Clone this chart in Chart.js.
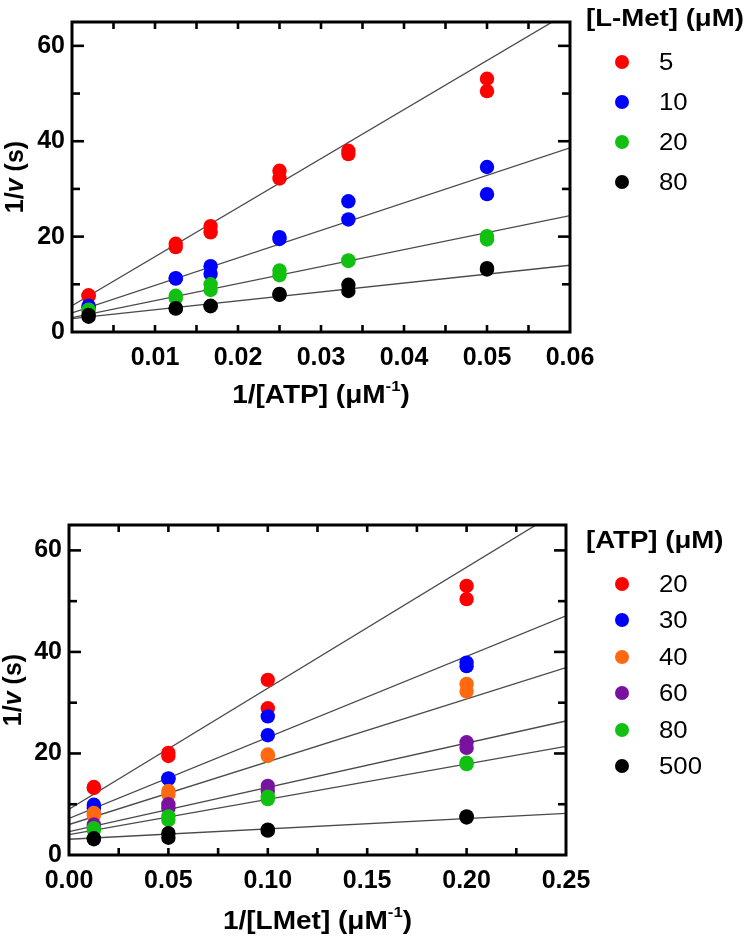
<!DOCTYPE html>
<html>
<head>
<meta charset="utf-8">
<script src="https://cdn.jsdelivr.net/npm/chart.js@4.4.1/dist/chart.umd.min.js"></script>
<style>
  html, body { margin: 0; padding: 0; background: #fff; }
  body { width: 750px; height: 938px; position: relative; overflow: hidden; font-family: "Liberation Sans", Arial, sans-serif; }
  .wrap { position: absolute; left: 0; width: 750px; }
  .legend { position: absolute; left: 0; top: 0; width: 750px; height: 100%; pointer-events: none; }
  .legend .title { position: absolute; left: 586px; font-weight: bold; font-size: 23px; white-space: nowrap; transform: scaleX(1.2); transform-origin: left center; line-height: 26px; margin-top: -13px; }
  .legend .dot { position: absolute; left: 615px; width: 14px; height: 14px; border-radius: 50%; margin-top: -7px; }
  .legend .lbl { position: absolute; left: 659px; font-size: 23px; line-height: 26px; margin-top: -13px; transform: scaleX(1.12); transform-origin: left center; }
</style>
</head>
<body>
<div class="wrap" style="top:0;height:440px">
  <canvas id="metChart" width="750" height="440"></canvas>
  <div class="legend" id="metLegend"></div>
</div>
<div class="wrap" style="top:440px;height:498px">
  <canvas id="atpChart" width="750" height="498"></canvas>
  <div class="legend" id="atpLegend"></div>
</div>
<script>
// ---- top panel: 1/v vs 1/[ATP] at fixed L-Met ----
const atpInv = [0.002, 0.0125, 0.0167, 0.025, 0.0333, 0.05];
const metLabels = ["5", "10", "20", "80"];
const metColors = ["#ff0000", "#0000ff", "#11c011", "#000000"];
const met5A = [7.7, 18.5, 22.2, 33.8, 38.0, 53.1];
const met5B = [7.5, 17.8, 20.9, 32.2, 37.3, 50.5];
const met10A = [5.5, 11.3, 13.8, 19.9, 27.4, 34.6];
const met10B = [5.2, 11.2, 12.2, 19.5, 23.6, 28.9];
const met20A = [4.7, 7.6, 10.0, 12.9, 15.0, 20.1];
const met20B = [4.4, 7.1, 8.8, 11.9, 14.9, 19.4];
const met80A = [3.6, 5.0, 5.5, 8.0, 9.9, 13.4];
const met80B = [3.2, 4.9, 5.4, 7.8, 8.6, 13.1];
// fitted lines: value at x = 0 and at x = 0.06
const metFitStart = [5.5, 4.0, 3.0, 2.8];
const metFitEnd = [67.2, 38.6, 24.4, 14.0];

// ---- bottom panel: 1/v vs 1/[LMet] at fixed ATP ----
const metInv = [0.0125, 0.05, 0.1, 0.2];
const atpLabels = ["20", "30", "40", "60", "80", "500"];
const atpColors = ["#ff0000", "#0000ff", "#ff6a10", "#7a12a0", "#11c011", "#000000"];
const atp20A = [13.4, 20.1, 34.5, 53.0];
const atp20B = [13.2, 19.5, 28.9, 50.4];
const atp30A = [9.9, 15.1, 27.3, 37.9];
const atp30B = [9.2, 15.0, 23.6, 37.2];
const atp40A = [8.3, 12.6, 19.8, 33.7];
const atp40B = [7.8, 11.9, 19.5, 32.2];
const atp60A = [6.0, 10.0, 13.6, 22.2];
const atp60B = [5.6, 9.2, 12.6, 21.1];
const atp80A = [5.3, 7.6, 11.5, 18.2];
const atp80B = [4.9, 6.9, 11.0, 17.9];
const atp500A = [3.3, 4.3, 5.0, 7.6];
const atp500B = [3.1, 3.4, 4.8, 7.4];
// fitted lines: value at x = 0 and at x = 0.25
const atpFitStart = [9.0, 7.2, 6.0, 4.6, 4.0, 3.1];
const atpFitEnd = [68.6, 47.1, 36.9, 26.4, 21.4, 8.2];

const FONT = "'Liberation Sans', Arial, sans-serif";

// frame, inward ticks and axis titles
const framePlugin = {
  id: "frame",
  afterDraw(chart, args, o) {
    const { ctx, chartArea: a } = chart;
    const x = chart.scales.x, y = chart.scales.y;
    ctx.save();
    ctx.strokeStyle = "#000";
    ctx.lineCap = "butt";
    ctx.lineWidth = 2.6;
    const seg = (x1, y1, x2, y2) => { ctx.beginPath(); ctx.moveTo(x1, y1); ctx.lineTo(x2, y2); ctx.stroke(); };

    const nx = Math.round((x.max - x.min) / o.xMinor);
    for (let i = 1; i < nx; i++) {
      const px = x.getPixelForValue(x.min + i * o.xMinor);
      seg(px, a.bottom, px, a.bottom - 7);
      seg(px, a.top, px, a.top + 7);
    }
    const ny = Math.floor((y.max - y.min) / o.yMinor + 1e-9);
    for (let i = 1; i <= ny; i++) {
      const v = y.min + i * o.yMinor;
      const py = y.getPixelForValue(v);
      const len = (v % o.yMajor === 0) ? 12 : 8;
      seg(a.left, py, a.left + len, py);
      seg(a.right, py, a.right - len, py);
    }
    ctx.lineWidth = 3;
    ctx.strokeRect(a.left, a.top, a.right - a.left, a.bottom - a.top);

    // x title with superscript
    ctx.fillStyle = "#000";
    ctx.textBaseline = "middle";
    const big = "bold 25px " + FONT, sup = "bold 15px " + FONT;
    ctx.font = big; const w1 = ctx.measureText(o.xTitle).width;
    ctx.font = sup; const w2 = ctx.measureText("-1").width;
    ctx.font = big; const w3 = ctx.measureText(")").width;
    const sx = 1.12, tot = (w1 + w2 + w3) * sx;
    ctx.save();
    ctx.translate((a.left + a.right) / 2 - tot / 2, o.xTitleY);
    ctx.scale(sx, 1);
    ctx.font = big; ctx.textAlign = "left";
    ctx.fillText(o.xTitle, 0, 0);
    ctx.font = sup; ctx.fillText("-1", w1, -9);
    ctx.font = big; ctx.fillText(")", w1 + w2, 0);
    ctx.restore();

    // y title with italic v
    const parts = [["1/", "bold 25px "], ["v", "italic bold 25px "], [" (s)", "bold 25px "]];
    let ytot = 0;
    parts.forEach(p => { ctx.font = p[1] + FONT; ytot += ctx.measureText(p[0]).width; });
    ctx.save();
    ctx.translate(o.yTitleX, (a.top + a.bottom) / 2);
    ctx.rotate(-Math.PI / 2);
    let cx = -ytot / 2;
    parts.forEach(p => { ctx.font = p[1] + FONT; ctx.fillText(p[0], cx, 0); cx += ctx.measureText(p[0]).width; });
    ctx.restore();
    ctx.restore();
  }
};

function buildDatasets(xs, seriesA, seriesB, colors, fitStart, fitEnd, xMax) {
  const sets = [];
  colors.forEach((c, i) => {
    const pts = [];
    xs.forEach((xv, k) => { pts.push({ x: xv, y: seriesA[i][k] }); pts.push({ x: xv, y: seriesB[i][k] }); });
    sets.push({
      type: "scatter", data: pts, backgroundColor: c, borderColor: c,
      pointRadius: 7.2, pointBorderWidth: 0, pointHoverRadius: 7.2, order: 50 - i
    });
  });
  colors.forEach((c, i) => {
    sets.push({
      type: "line", data: [{ x: 0, y: fitStart[i] }, { x: xMax, y: fitEnd[i] }],
      borderColor: "#4a4a4a", borderWidth: 1.3, pointRadius: 0, fill: false, order: 100
    });
  });
  return sets;
}

function makeChart(id, datasets, cfg) {
  return new Chart(document.getElementById(id), {
    type: "scatter",
    data: { datasets },
    plugins: [framePlugin],
    options: {
      responsive: false, animation: false, events: [],
      layout: { padding: { left: 0, right: cfg.padRight, top: cfg.padTop, bottom: 0 } },
      plugins: {
        legend: { display: false }, tooltip: { enabled: false },
        frame: { xMinor: cfg.xMinor, yMinor: 10, yMajor: 20, xTitle: cfg.xTitle, xTitleY: cfg.xTitleY, yTitleX: cfg.yTitleX }
      },
      scales: {
        x: {
          type: "linear", min: 0, max: cfg.xMax,
          afterFit: s => { s.height = cfg.xHeight; },
          grid: { display: false, drawTicks: false },
          border: { display: false },
          ticks: {
            stepSize: cfg.xStep, includeBounds: false, padding: 11, color: "#000", maxRotation: 0,
            font: { family: FONT, size: 25, weight: "bold" },
            callback: v => (cfg.hideZero && Math.abs(v) < 1e-9) ? "" : Number(v).toFixed(2)
          }
        },
        y: {
          min: 0, max: 65,
          afterFit: s => { s.width = cfg.yWidth; },
          grid: { display: false, drawTicks: false },
          border: { display: false },
          ticks: { stepSize: 20, includeBounds: false, padding: 7, color: "#000", font: { family: FONT, size: 25, weight: "bold" } }
        }
      }
    }
  });
}

function makeLegend(id, title, labels, colors, top, gap) {
  const box = document.getElementById(id);
  const t = document.createElement("div");
  t.className = "title"; t.textContent = title; t.style.top = top + "px";
  box.appendChild(t);
  labels.forEach((l, i) => {
    const cy = top + 44 + i * gap;
    const d = document.createElement("div");
    d.className = "dot"; d.style.top = cy + "px"; d.style.background = colors[i];
    const s = document.createElement("div");
    s.className = "lbl"; s.style.top = cy + "px"; s.textContent = l;
    box.appendChild(d); box.appendChild(s);
  });
}

makeChart("metChart",
  buildDatasets(atpInv, [met5A, met10A, met20A, met80A], [met5B, met10B, met20B, met80B], metColors, metFitStart, metFitEnd, 0.06),
  { xMax: 0.06, xStep: 0.01, xMinor: 0.005, hideZero: true, padRight: 180, padTop: 1, xHeight: 108, yWidth: 72,
    xTitle: "1/[ATP] (μM", xTitleY: 396, yTitleX: 16 });

makeChart("atpChart",
  buildDatasets(metInv, [atp20A, atp30A, atp40A, atp60A, atp80A, atp500A], [atp20B, atp30B, atp40B, atp60B, atp80B, atp500B], atpColors, atpFitStart, atpFitEnd, 0.25),
  { xMax: 0.25, xStep: 0.05, xMinor: 0.025, hideZero: false, padRight: 184, padTop: 85, xHeight: 83, yWidth: 69,
    xTitle: "1/[LMet] (μM", xTitleY: 482, yTitleX: 14 });

makeLegend("metLegend", "[L-Met] (μM)", metLabels, metColors, 18, 40);
makeLegend("atpLegend", "[ATP] (μM)", atpLabels, atpColors, 100, 36.4);
</script>
</body>
</html>
